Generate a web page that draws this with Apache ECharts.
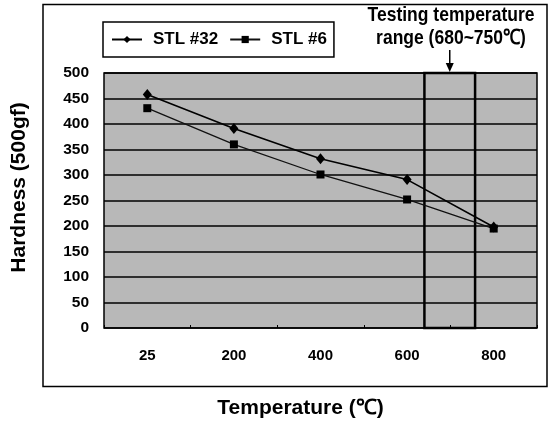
<!DOCTYPE html>
<html><head><meta charset="utf-8">
<script src="https://cdn.jsdelivr.net/npm/echarts@6/dist/echarts.min.js"></script>
<style>html,body{margin:0;padding:0;background:#fff}#c{width:555px;height:425px}</style>
</head><body><div id="c"></div>
<script>
const categories = ['25', '200', '400', '600', '800'];
const categoryTemps = [25, 200, 400, 600, 800];
const stl32 = [458, 391, 332, 291, 198];
const stl6 = [431, 360, 301, 252, 195];
const yTicks = { min: 0, max: 500, interval: 50 };
// box extent as drawn on the chart (°C, between the 600 and 800 categories)
const boxRange = [640, 757];
const annotationLines = ['Testing temperature', 'range (680~750\u2103)'];

// map a temperature to category-index space (category i centre = i + 0.5)
function tempToIndex(t) {
  for (let i = 0; i < categoryTemps.length - 1; i++) {
    if (t <= categoryTemps[i + 1]) {
      return i + 0.5 + (t - categoryTemps[i]) / (categoryTemps[i + 1] - categoryTemps[i]);
    }
  }
  return categoryTemps.length - 0.5;
}

const F = 'Liberation Sans, Arial, sans-serif';
const chart = echarts.init(document.getElementById('c'), null, { renderer: 'canvas' });
const option = {
  animation: false,
  backgroundColor: '#fff',
  grid: { left: 104, right: 18, top: 73, bottom: 97, show: true, backgroundColor: '#b8b8b8', borderColor: '#000', borderWidth: 1.5 },
  legend: {
    left: 103, top: 22, padding: [9, 7, 9, 8], itemGap: 11, itemWidth: 30, itemHeight: 9,
    borderColor: '#000', borderWidth: 1.5, backgroundColor: '#fff',
    textStyle: { fontFamily: F, fontWeight: 'bold', fontSize: 17, color: '#000', padding: [0, 0, 0, 6] },
    data: ['STL #32', 'STL #6']
  },
  xAxis: [{
    type: 'category', data: categories, boundaryGap: true,
    axisLine: { show: false },
    axisTick: { show: true, inside: true, length: 3, lineStyle: { color: '#000' } },
    axisLabel: { margin: 20, fontFamily: F, fontWeight: 'bold', fontSize: 15, color: '#000' },
    name: 'Temperature (\u2103)', nameLocation: 'middle', nameGap: 70,
    nameTextStyle: { fontFamily: F, fontWeight: 'bold', fontSize: 21, color: '#000', padding: [0, 40, 0, 0] }
  }, {
    type: 'value', min: 0, max: categories.length, show: false
  }],
  yAxis: {
    type: 'value', min: yTicks.min, max: yTicks.max, interval: yTicks.interval,
    axisLine: { show: false }, axisTick: { show: false },
    axisLabel: { margin: 15, fontFamily: F, fontWeight: 'bold', fontSize: 15.5, color: '#000' },
    splitLine: { lineStyle: { color: '#000', width: 1.6 } },
    name: 'Hardness (500gf)', nameLocation: 'middle', nameGap: 74,
    nameTextStyle: { fontFamily: F, fontWeight: 'bold', fontSize: 21, color: '#000', padding: [0, 0, 0, 26] }
  },
  series: [{
    name: 'box', type: 'line', xAxisIndex: 1, data: [], silent: true,
    markArea: {
      silent: true,
      itemStyle: { color: 'rgba(0,0,0,0)', borderColor: '#000', borderWidth: 2.5 },
      data: [[{ xAxis: tempToIndex(boxRange[0]), yAxis: yTicks.min }, { xAxis: tempToIndex(boxRange[1]), yAxis: yTicks.max }]]
    }
  }, {
    name: 'STL #6', type: 'line', data: stl6, symbol: 'rect', symbolSize: 8,
    itemStyle: { color: '#000' }, lineStyle: { color: '#111', width: 1.3 }
  }, {
    name: 'STL #32', type: 'line', data: stl32, symbol: 'diamond', symbolSize: [9, 11],
    itemStyle: { color: '#000' }, lineStyle: { color: '#000', width: 1.6 }
  }]
};
chart.setOption(option);

const cx = chart.convertToPixel({ xAxisIndex: 1 }, (tempToIndex(boxRange[0]) + tempToIndex(boxRange[1])) / 2);
const topY = chart.convertToPixel({ yAxisIndex: 0 }, yTicks.max);
chart.setOption({
  graphic: [
    { type: 'rect', shape: { x: 43, y: 4.5, width: 504, height: 382 }, style: { fill: null, stroke: '#000', lineWidth: 1.5 }, z: -1 },
    { type: 'text', x: 451, y: 4, scaleY: 1.2, style: { text: annotationLines.join('\n'), align: 'center', verticalAlign: 'top', lineHeight: 19, fontFamily: F, fontWeight: 'bold', fontSize: 17.5, fill: '#000' } },
    { type: 'line', shape: { x1: cx, y1: 50, x2: cx, y2: topY - 6 }, style: { stroke: '#000', lineWidth: 1.5 } },
    { type: 'polygon', shape: { points: [[cx - 4, topY - 10], [cx + 4, topY - 10], [cx, topY - 1]] }, style: { fill: '#000' } }
  ]
});
</script></body></html>
